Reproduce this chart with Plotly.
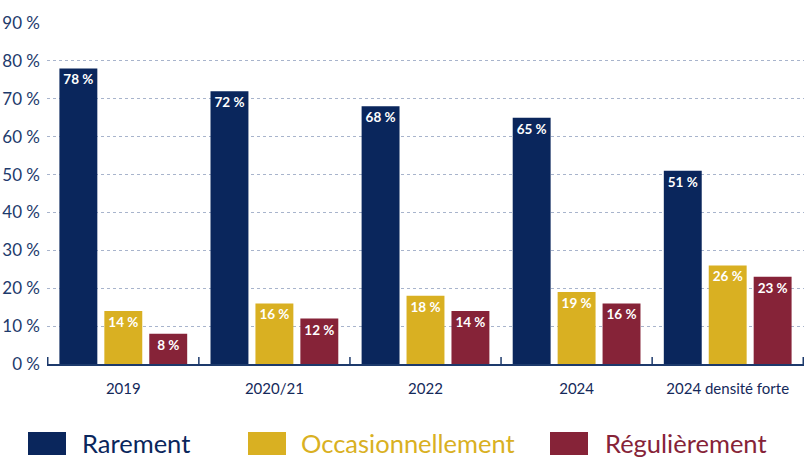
import plotly.graph_objects as go

categories = ["2019", "2020/21", "2022", "2024", "2024 densité forte"]
series_names = ["Rarement", "Occasionnellement", "Régulièrement"]
rarement = [78, 72, 68, 65, 51]
occasionnellement = [14, 16, 18, 19, 26]
regulierement = [8, 12, 14, 16, 23]
y_ticks = [0, 10, 20, 30, 40, 50, 60, 70, 80, 90]

colors = ["#0a265c", "#d9b022", "#862338"]
navy_text = "#1d3a6c"
font_family = "Lato, sans-serif"

fig = go.Figure()
for name, vals, col in zip(series_names, [rarement, occasionnellement, regulierement], colors):
    fig.add_trace(go.Bar(
        x=categories, y=vals, name=name,
        marker=dict(color=col, line=dict(width=0)),
        text=[f"{v} %" for v in vals],
        textposition="inside", insidetextanchor="end", textangle=0,
        textfont=dict(family=font_family, size=13.5, color="white", weight="bold"),
        showlegend=False,
    ))

fig.update_layout(
    width=804, height=458,
    margin=dict(l=47, r=0, t=23, b=94),
    paper_bgcolor="white", plot_bgcolor="white",
    barmode="group", bargap=0.108, bargroupgap=0.156,
    uniformtext=dict(minsize=13.5, mode="show"),
    font=dict(family=font_family, color=navy_text),
)
fig.update_yaxes(
    range=[0, 90], tickvals=y_ticks, ticktext=[f"{v} %" for v in y_ticks],
    showgrid=True, gridcolor="#a8b4cc", griddash="dot", gridwidth=1,
    zeroline=False, showline=False, ticks="", ticklabelstandoff=6,
    tickfont=dict(size=17, color=navy_text),
)
fig.update_xaxes(
    showline=True, linecolor="#1d3a6c", linewidth=1.5,
    ticks="", tickfont=dict(size=15, color="#14295a"),
    ticklabelstandoff=10,
)

# boundary ticks crossing the category axis
for i in range(len(categories) + 1):
    fig.add_shape(type="line", xref="x", yref="y", x0=i - 0.5, x1=i - 0.5,
                  ysizemode="pixel", yanchor=0, y0=-7, y1=7,
                  line=dict(color="#1d3a6c", width=1.5))

# legend drawn below the chart
legend_items = [(28, 80), (248, 299), (550, 603)]
for (sx, tx), name, col in zip(legend_items, series_names, colors):
    fig.add_shape(type="rect", xref="paper", yref="paper",
                  xsizemode="pixel", ysizemode="pixel", xanchor=0, yanchor=0,
                  x0=sx - 47, x1=sx - 47 + 38, y0=-(432 - 364), y1=-(455 - 364),
                  fillcolor=col, line=dict(width=0))
    fig.add_annotation(xref="paper", yref="paper", x=(tx - 47) / 757, y=0,
                       yshift=-(443 - 364), xanchor="left", yanchor="middle",
                       text=name, showarrow=False,
                       font=dict(family=font_family, size=25.5, color=col))

fig.write_html("out.html")
